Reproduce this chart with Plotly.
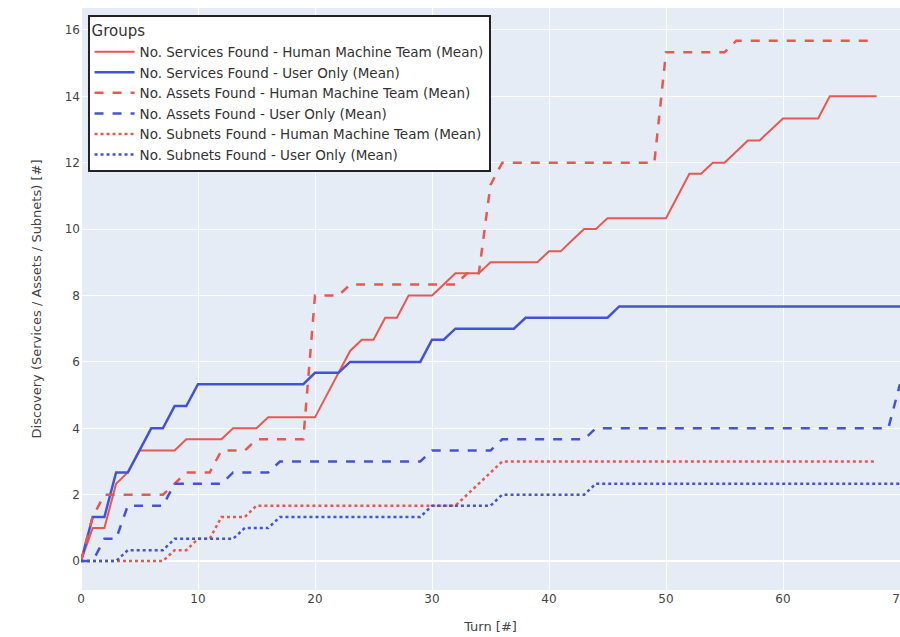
import plotly.graph_objects as go

# Turn indices for each experimental group
hmt_turns = list(range(69))
user_turns = list(range(71))

# Mean number of services found per turn
services_hmt = [0, 1, 1, 2.33, 2.67, 3.33, 3.33, 3.33, 3.33, 3.67,
                3.67, 3.67, 3.67, 4, 4, 4, 4.33, 4.33, 4.33, 4.33,
                4.33, 5, 5.67, 6.33, 6.67, 6.67, 7.33, 7.33, 8, 8,
                8, 8.33, 8.67, 8.67, 8.67, 9, 9, 9, 9, 9,
                9.33, 9.33, 9.67, 10, 10, 10.33, 10.33, 10.33, 10.33, 10.33,
                10.33, 11, 11.67, 11.67, 12, 12, 12.33, 12.67, 12.67, 13,
                13.33, 13.33, 13.33, 13.33, 14, 14, 14, 14, 14]
services_user = [0, 1.33, 1.33, 2.67, 2.67, 3.33, 4, 4, 4.67, 4.67,
                 5.33, 5.33, 5.33, 5.33, 5.33, 5.33, 5.33, 5.33, 5.33, 5.33,
                 5.67, 5.67, 5.67, 6, 6, 6, 6, 6, 6, 6,
                 6.67, 6.67, 7, 7, 7, 7, 7, 7, 7.33, 7.33,
                 7.33, 7.33, 7.33, 7.33, 7.33, 7.33, 7.67, 7.67, 7.67, 7.67,
                 7.67, 7.67, 7.67, 7.67, 7.67, 7.67, 7.67, 7.67, 7.67, 7.67,
                 7.67, 7.67, 7.67, 7.67, 7.67, 7.67, 7.67, 7.67, 7.67, 7.67,
                 7.67]

# Mean number of assets found per turn
assets_hmt = [0, 1.33, 2, 2, 2, 2, 2, 2, 2.33, 2.67,
              2.67, 2.67, 3.33, 3.33, 3.33, 3.67, 3.67, 3.67, 3.67, 3.67,
              8, 8, 8, 8.33, 8.33, 8.33, 8.33, 8.33, 8.33, 8.33,
              8.33, 8.33, 8.33, 8.67, 8.67, 11.33, 12, 12, 12, 12,
              12, 12, 12, 12, 12, 12, 12, 12, 12, 12,
              15.33, 15.33, 15.33, 15.33, 15.33, 15.33, 15.67, 15.67, 15.67, 15.67,
              15.67, 15.67, 15.67, 15.67, 15.67, 15.67, 15.67, 15.67, 15.67]
assets_user = [0, 0, 0.67, 0.67, 1.67, 1.67, 1.67, 1.67, 2.33, 2.33,
               2.33, 2.33, 2.33, 2.67, 2.67, 2.67, 2.67, 3, 3, 3,
               3, 3, 3, 3, 3, 3, 3, 3, 3, 3,
               3.33, 3.33, 3.33, 3.33, 3.33, 3.33, 3.67, 3.67, 3.67, 3.67,
               3.67, 3.67, 3.67, 3.67, 4, 4, 4, 4, 4, 4,
               4, 4, 4, 4, 4, 4, 4, 4, 4, 4,
               4, 4, 4, 4, 4, 4, 4, 4, 4, 4,
               5.33]

# Mean number of subnets found per turn
subnets_hmt = [0, 0, 0, 0, 0, 0, 0, 0, 0.33, 0.33,
               0.67, 0.67, 1.33, 1.33, 1.33, 1.67, 1.67, 1.67, 1.67, 1.67,
               1.67, 1.67, 1.67, 1.67, 1.67, 1.67, 1.67, 1.67, 1.67, 1.67,
               1.67, 1.67, 1.67, 2, 2.33, 2.67, 3, 3, 3, 3,
               3, 3, 3, 3, 3, 3, 3, 3, 3, 3,
               3, 3, 3, 3, 3, 3, 3, 3, 3, 3,
               3, 3, 3, 3, 3, 3, 3, 3, 3]
subnets_user = [0, 0, 0, 0, 0.33, 0.33, 0.33, 0.33, 0.67, 0.67,
                0.67, 0.67, 0.67, 0.67, 1, 1, 1, 1.33, 1.33, 1.33,
                1.33, 1.33, 1.33, 1.33, 1.33, 1.33, 1.33, 1.33, 1.33, 1.33,
                1.67, 1.67, 1.67, 1.67, 1.67, 1.67, 2, 2, 2, 2,
                2, 2, 2, 2, 2.33, 2.33, 2.33, 2.33, 2.33, 2.33,
                2.33, 2.33, 2.33, 2.33, 2.33, 2.33, 2.33, 2.33, 2.33, 2.33,
                2.33, 2.33, 2.33, 2.33, 2.33, 2.33, 2.33, 2.33, 2.33, 2.33,
                2.33]

RED = "#E8584F"
BLUE = "#4453D6"

series = [
    ("No. Services Found - Human Machine Team (Mean)", hmt_turns, services_hmt, RED, "solid", 2),
    ("No. Services Found - User Only (Mean)", user_turns, services_user, BLUE, "solid", 2.5),
    ("No. Assets Found - Human Machine Team (Mean)", hmt_turns, assets_hmt, RED, "dash", 2.5),
    ("No. Assets Found - User Only (Mean)", user_turns, assets_user, BLUE, "dash", 2.5),
    ("No. Subnets Found - Human Machine Team (Mean)", hmt_turns, subnets_hmt, RED, "dot", 2.5),
    ("No. Subnets Found - User Only (Mean)", user_turns, subnets_user, BLUE, "dot", 2.5),
]

fig = go.Figure()
for name, x, y, color, dash, width in series:
    fig.add_trace(go.Scatter(
        x=x, y=y, mode="lines", name=name,
        line=dict(color=color, dash=dash, width=width),
    ))

fig.update_layout(
    template="plotly",
    width=900, height=637,
    margin=dict(l=81, r=0, t=8, b=47),
    font=dict(family="DejaVu Sans", size=12, color="#444"),
    legend=dict(
        title=dict(text="Groups", font=dict(size=15, color="#333")),
        x=0.008, y=0.988, xanchor="left", yanchor="top",
        bgcolor="white", bordercolor="#222", borderwidth=2,
        font=dict(size=13.5, color="#333"),
        itemwidth=40,
    ),
    xaxis=dict(
        title=dict(text="Turn [#]", font=dict(size=13), standoff=16),
        range=[0, 70], dtick=10, automargin=False,
        ticklabeloverflow="allow",
    ),
    yaxis=dict(
        title=dict(text="Discovery (Services / Assets / Subnets) [#]", font=dict(size=13), standoff=20),
        range=[-0.87, 16.66], dtick=2, automargin=False,
    ),
)

fig.write_html("out.html")
